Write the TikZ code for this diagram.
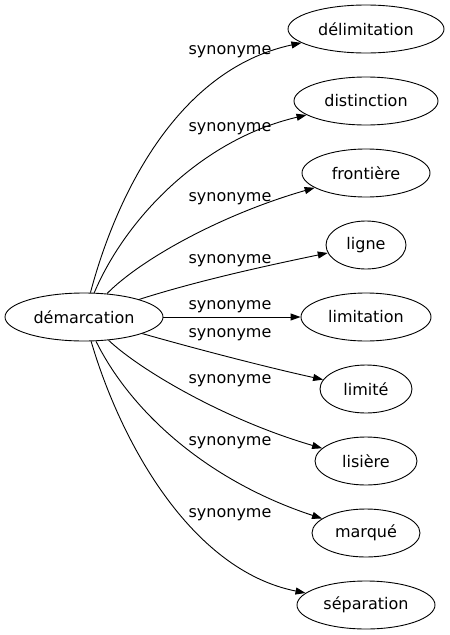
\documentclass[tikz,border=0pt]{standalone}
\usepackage{fontspec}
\setmainfont{DejaVu Sans}
\usetikzlibrary{shapes.geometric,arrows.meta}
\tikzset{
  word/.style={draw, ellipse, inner sep=0pt, minimum height=48pt, line width=0.9pt, font=\fontsize{16}{19}\selectfont},
  lbl/.style={inner sep=0pt, font=\fontsize{16}{19}\selectfont},
  rel/.style={line width=0.9pt, -{Triangle[length=10pt,width=7pt]}}
}
\begin{document}
\begin{tikzpicture}[x=1pt,y=-1pt]
\useasboundingbox (0,0) rectangle (450,635);
\node[word, minimum width=158pt] (dem) at (84,317) {démarcation};
\node[word, minimum width=156pt] (del) at (366,29) {délimitation};
\node[word, minimum width=144pt] (dis) at (366,101) {distinction};
\node[word, minimum width=128pt] (fro) at (366,173) {frontière};
\node[word, minimum width=80pt] (lig) at (366,245) {ligne};
\node[word, minimum width=130pt] (lim) at (366,317) {limitation};
\node[word, minimum width=92pt] (lit) at (366,389) {limité};
\node[word, minimum width=102pt] (lis) at (366,461) {lisière};
\node[word, minimum width=108pt] (mar) at (366,533) {marqué};
\node[word, minimum width=138pt] (sep) at (366,605) {séparation};

\node[lbl] (l1) at (230,52) {synonyme};
\node[lbl] (l2) at (230,129) {synonyme};
\node[lbl] (l3) at (230,199) {synonyme};
\node[lbl] (l4) at (230,261) {synonyme};
\node[lbl] (l5) at (230,306.5) {synonyme};
\node[lbl] (l6) at (230,335) {synonyme};
\node[lbl] (l7) at (230,381) {synonyme};
\node[lbl] (l8) at (230,443) {synonyme};
\node[lbl] (l9) at (230,515) {synonyme};

\draw[rel] (dem) .. controls (115,200) and (175,70) .. (del);
\draw[rel] (dem) .. controls (125,220) and (200,140) .. (dis);
\draw[rel] (dem) .. controls (140,260) and (220,215) .. (fro);
\draw[rel] (dem) .. controls (200,280) and (270,265) .. (lig);
\draw[rel] (dem) -- (lim);
\draw[rel] (dem) .. controls (200,350) and (270,368) .. (lit);
\draw[rel] (dem) .. controls (140,370) and (225,420) .. (lis);
\draw[rel] (dem) .. controls (130,410) and (205,480) .. (mar);
\draw[rel] (dem) .. controls (120,440) and (190,570) .. (sep);
\end{tikzpicture}
\end{document}
